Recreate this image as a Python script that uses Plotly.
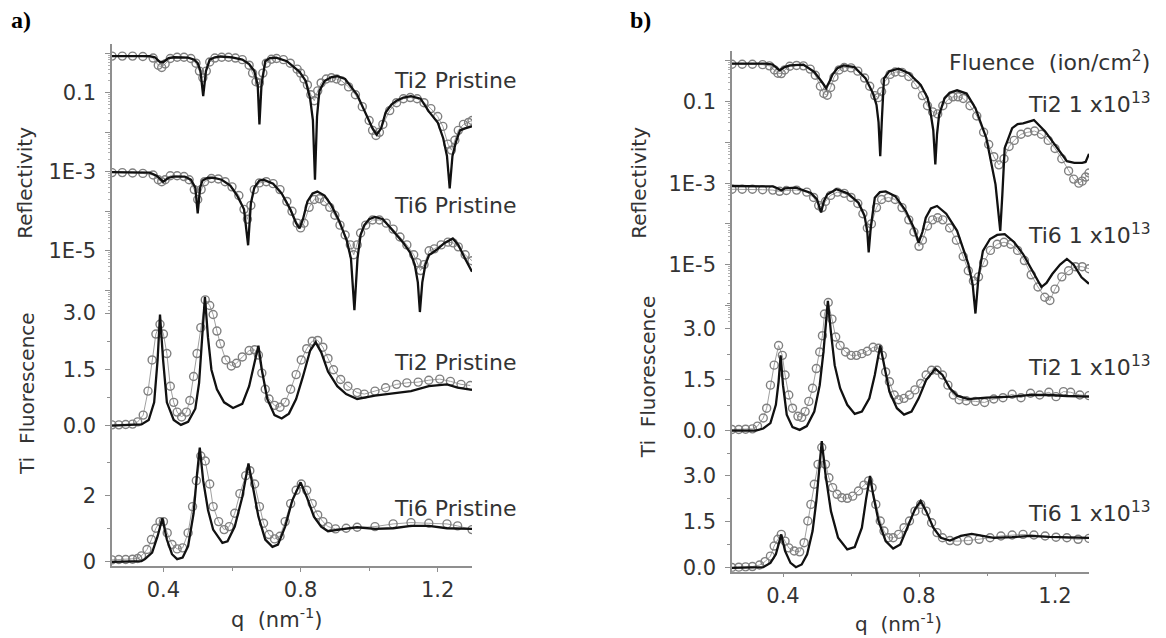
import numpy as np
import plotly.graph_objects as go

W, H = 1166, 638
FONT = "DejaVu Sans"

# ---------------- Panel a : reflectivity (log10 R) ----------------
qa_R2_fit = [0.25,0.36,0.375,0.39,0.40,0.415,0.43,0.472,0.49,0.50,0.508,0.516,0.524,0.535,0.55,0.566,0.60,0.63,0.65,0.665,0.675,0.68,0.686,0.697,0.71,0.729,0.76,0.797,0.815,0.828,0.836,0.842,0.848,0.855,0.87,0.89,0.907,0.93,0.965,0.996,1.01,1.022,1.035,1.048,1.065,1.08,1.10,1.122,1.15,1.174,1.20,1.216,1.227,1.235,1.243,1.253,1.265,1.28,1.30]
la_R2_fit = [-0.07,-0.07,-0.1,-0.22,-0.22,-0.12,-0.1,-0.11,-0.16,-0.25,-0.45,-1.085,-0.45,-0.16,-0.1,-0.08,-0.1,-0.16,-0.27,-0.45,-0.8,-1.8,-0.8,-0.2,-0.12,-0.11,-0.2,-0.47,-0.7,-1.15,-1.7,-3.2,-1.6,-0.95,-0.7,-0.6,-0.58,-0.65,-1.05,-1.63,-1.9,-2.06,-1.9,-1.5,-1.3,-1.2,-1.12,-1.085,-1.15,-1.47,-1.75,-2.15,-2.6,-3.42,-2.6,-2.25,-1.95,-1.9,-1.85]
qa_R2_dat = [0.25,0.28,0.31,0.34,0.37,0.385,0.395,0.405,0.42,0.44,0.46,0.48,0.495,0.505,0.515,0.525,0.535,0.55,0.57,0.59,0.61,0.63,0.65,0.66,0.67,0.68,0.69,0.70,0.715,0.73,0.75,0.77,0.79,0.80,0.81,0.82,0.83,0.84,0.85,0.86,0.875,0.89,0.905,0.92,0.94,0.96,0.98,1.0,1.01,1.02,1.03,1.04,1.06,1.08,1.10,1.12,1.14,1.16,1.18,1.20,1.215,1.23,1.24,1.25,1.26,1.275,1.29,1.30]
la_R2_dat = [-0.07,-0.07,-0.07,-0.08,-0.12,-0.3,-0.36,-0.27,-0.13,-0.1,-0.1,-0.13,-0.25,-0.45,-0.62,-0.45,-0.22,-0.12,-0.1,-0.1,-0.12,-0.16,-0.3,-0.5,-0.72,-0.75,-0.5,-0.25,-0.15,-0.13,-0.16,-0.25,-0.4,-0.5,-0.65,-0.8,-1.05,-1.2,-0.95,-0.75,-0.65,-0.62,-0.65,-0.7,-0.85,-1.05,-1.35,-1.7,-1.95,-2.08,-2.0,-1.8,-1.45,-1.25,-1.15,-1.12,-1.15,-1.25,-1.4,-1.6,-1.85,-2.3,-2.45,-2.2,-1.95,-1.8,-1.75,-1.7]
qa_R6_fit = [0.25,0.36,0.38,0.399,0.415,0.43,0.462,0.48,0.493,0.50,0.507,0.514,0.53,0.545,0.57,0.595,0.615,0.635,0.647,0.655,0.665,0.68,0.692,0.72,0.745,0.77,0.787,0.797,0.807,0.82,0.835,0.849,0.87,0.89,0.912,0.935,0.947,0.957,0.966,0.975,0.986,1.0,1.017,1.04,1.06,1.08,1.10,1.12,1.133,1.142,1.148,1.155,1.164,1.175,1.185,1.20,1.22,1.244,1.26,1.28,1.30]
la_R6_fit = [-3.01,-3.02,-3.1,-3.25,-3.15,-3.12,-3.12,-3.2,-3.4,-4.05,-3.4,-3.22,-3.15,-3.15,-3.2,-3.35,-3.6,-3.95,-4.86,-3.8,-3.4,-3.22,-3.2,-3.3,-3.55,-3.95,-4.3,-4.43,-4.2,-3.75,-3.55,-3.5,-3.6,-3.85,-4.23,-4.75,-5.2,-6.5,-5.2,-4.6,-4.35,-4.2,-4.14,-4.2,-4.4,-4.6,-4.8,-5.05,-5.35,-5.8,-6.55,-5.8,-5.35,-5.1,-5.05,-4.95,-4.8,-4.69,-4.85,-5.2,-5.53]
qa_R6_dat = [0.25,0.28,0.31,0.34,0.37,0.385,0.395,0.405,0.42,0.44,0.46,0.475,0.49,0.50,0.51,0.52,0.54,0.56,0.58,0.60,0.62,0.635,0.645,0.655,0.665,0.68,0.70,0.72,0.74,0.76,0.775,0.79,0.80,0.81,0.825,0.84,0.855,0.87,0.885,0.90,0.915,0.93,0.945,0.955,0.965,0.975,0.99,1.01,1.03,1.05,1.07,1.09,1.11,1.13,1.14,1.15,1.16,1.175,1.19,1.21,1.23,1.245,1.26,1.28,1.30]
la_R6_dat = [-3.02,-3.02,-3.03,-3.04,-3.08,-3.2,-3.25,-3.2,-3.1,-3.1,-3.12,-3.2,-3.45,-3.7,-3.45,-3.25,-3.17,-3.18,-3.25,-3.38,-3.6,-3.95,-4.2,-3.85,-3.45,-3.28,-3.25,-3.3,-3.45,-3.75,-4.0,-4.3,-4.42,-4.3,-3.9,-3.7,-3.68,-3.75,-3.9,-4.1,-4.35,-4.6,-4.85,-5.1,-4.85,-4.55,-4.35,-4.22,-4.22,-4.3,-4.45,-4.65,-4.85,-5.1,-5.3,-5.5,-5.35,-5.0,-4.95,-4.85,-4.78,-4.8,-4.9,-5.1,-5.25]

# ---------------- Panel a : Ti fluorescence ----------------
qa_F2_fit = [0.25,0.336,0.357,0.373,0.383,0.39,0.399,0.41,0.43,0.451,0.472,0.493,0.504,0.514,0.521,0.53,0.54,0.556,0.577,0.603,0.63,0.65,0.666,0.677,0.687,0.703,0.724,0.745,0.766,0.787,0.807,0.828,0.844,0.86,0.88,0.907,0.933,0.965,1.017,1.07,1.122,1.174,1.227,1.258,1.30]
fa_F2_fit = [0.0,0.03,0.15,0.62,1.75,2.96,1.75,0.62,0.15,0.02,0.1,0.45,1.14,2.35,3.43,2.35,1.49,0.97,0.62,0.47,0.58,1.05,1.66,2.13,1.49,0.71,0.28,0.19,0.32,0.71,1.31,2.0,2.22,1.96,1.44,1.05,0.84,0.71,0.8,0.86,0.92,1.05,1.1,1.01,0.95]
qa_F2_dat = [0.25,0.27,0.29,0.31,0.325,0.341,0.355,0.367,0.378,0.39,0.40,0.41,0.42,0.43,0.44,0.453,0.467,0.477,0.488,0.498,0.509,0.522,0.535,0.545,0.556,0.566,0.582,0.598,0.613,0.63,0.65,0.666,0.677,0.687,0.697,0.708,0.724,0.74,0.755,0.771,0.787,0.802,0.818,0.834,0.85,0.865,0.88,0.896,0.917,0.938,0.965,0.986,1.017,1.048,1.08,1.11,1.143,1.174,1.206,1.237,1.268,1.295]
fa_F2_dat = [0.02,0.02,0.03,0.04,0.1,0.28,0.92,1.75,2.44,2.7,2.44,1.92,1.05,0.62,0.36,0.23,0.36,0.67,1.31,1.92,2.61,3.35,3.2,2.96,2.52,2.18,1.75,1.59,1.66,1.83,2.0,2.02,1.88,1.4,0.97,0.71,0.54,0.49,0.62,0.97,1.36,1.75,2.05,2.25,2.27,2.09,1.79,1.49,1.23,1.05,0.88,0.84,0.92,1.01,1.1,1.14,1.16,1.21,1.24,1.18,1.1,1.07]
qa_F6_fit = [0.25,0.336,0.346,0.367,0.383,0.397,0.41,0.425,0.44,0.456,0.472,0.488,0.498,0.506,0.516,0.53,0.545,0.572,0.587,0.608,0.63,0.648,0.661,0.677,0.697,0.718,0.734,0.755,0.776,0.80,0.818,0.839,0.86,0.88,0.912,0.965,1.017,1.07,1.122,1.174,1.227,1.30]
fa_F6_fit = [0.0,0.02,0.08,0.28,0.77,1.31,0.67,0.23,0.08,0.13,0.47,1.46,2.64,3.43,2.44,1.56,0.97,0.57,0.62,1.06,1.95,2.96,2.25,1.36,0.67,0.45,0.52,1.06,1.85,2.39,1.95,1.36,1.06,0.92,0.97,1.04,0.99,1.01,1.08,1.08,1.01,0.99]
qa_F6_dat = [0.25,0.27,0.29,0.31,0.325,0.336,0.352,0.365,0.378,0.39,0.40,0.411,0.425,0.44,0.456,0.472,0.485,0.496,0.509,0.522,0.535,0.545,0.561,0.577,0.592,0.608,0.623,0.64,0.652,0.666,0.68,0.692,0.708,0.724,0.74,0.755,0.771,0.787,0.802,0.818,0.834,0.85,0.865,0.88,0.902,0.933,0.965,1.017,1.07,1.122,1.174,1.227,1.258,1.30]
fa_F6_dat = [0.06,0.07,0.07,0.08,0.1,0.18,0.37,0.67,1.01,1.21,1.21,0.87,0.52,0.39,0.42,0.87,1.66,2.44,3.18,3.03,2.34,1.66,1.21,0.97,1.06,1.46,2.05,2.59,2.74,2.34,1.66,1.16,0.82,0.69,0.77,1.21,1.75,2.15,2.34,2.15,1.75,1.41,1.21,1.06,0.99,1.01,1.04,1.06,1.14,1.18,1.16,1.14,1.08,0.97]

# ---------------- Panel b : reflectivity (log10 R) ----------------
qb_R2_fit = [0.25,0.35,0.37,0.39,0.405,0.42,0.46,0.492,0.514,0.527,0.537,0.546,0.56,0.578,0.61,0.643,0.665,0.675,0.681,0.686,0.691,0.697,0.713,0.74,0.77,0.805,0.825,0.832,0.842,0.848,0.853,0.859,0.875,0.89,0.912,0.94,0.966,0.998,1.025,1.033,1.039,1.045,1.052,1.074,1.09,1.106,1.138,1.171,1.203,1.235,1.257,1.28,1.29,1.30]
lb_R2_fit = [-0.065,-0.065,-0.09,-0.23,-0.15,-0.11,-0.09,-0.27,-0.51,-0.67,-0.5,-0.33,-0.18,-0.11,-0.15,-0.43,-0.8,-1.08,-1.5,-2.34,-1.4,-0.43,-0.25,-0.19,-0.3,-0.59,-0.9,-1.16,-1.7,-2.54,-1.8,-1.33,-0.92,-0.78,-0.72,-0.8,-1.16,-1.89,-3.03,-3.6,-4.17,-3.3,-2.14,-1.65,-1.55,-1.53,-1.45,-1.73,-2.1,-2.46,-2.5,-2.5,-2.48,-2.28]
qb_R2_dat = [0.25,0.28,0.31,0.34,0.36,0.375,0.385,0.395,0.405,0.42,0.44,0.46,0.48,0.495,0.51,0.52,0.53,0.54,0.55,0.565,0.58,0.60,0.62,0.64,0.655,0.67,0.68,0.69,0.70,0.715,0.73,0.75,0.77,0.79,0.81,0.825,0.84,0.855,0.87,0.885,0.90,0.915,0.93,0.95,0.97,0.99,1.005,1.02,1.035,1.05,1.065,1.08,1.10,1.12,1.14,1.16,1.18,1.20,1.22,1.24,1.255,1.27,1.28,1.29,1.30]
lb_R2_dat = [-0.08,-0.08,-0.08,-0.09,-0.12,-0.22,-0.3,-0.31,-0.22,-0.13,-0.11,-0.12,-0.2,-0.35,-0.62,-0.8,-0.84,-0.65,-0.4,-0.22,-0.16,-0.17,-0.25,-0.42,-0.62,-0.85,-0.9,-0.75,-0.5,-0.33,-0.27,-0.28,-0.38,-0.58,-0.85,-1.1,-1.25,-1.3,-1.1,-0.95,-0.88,-0.88,-0.92,-1.1,-1.35,-1.75,-2.05,-2.35,-2.55,-2.4,-2.1,-1.95,-1.8,-1.75,-1.72,-1.8,-1.95,-2.15,-2.4,-2.7,-2.9,-3.0,-2.95,-2.85,-2.75]
qb_R6_fit = [0.25,0.37,0.385,0.395,0.405,0.438,0.482,0.50,0.512,0.52,0.53,0.557,0.59,0.622,0.64,0.648,0.652,0.658,0.67,0.685,0.702,0.73,0.761,0.785,0.799,0.81,0.82,0.835,0.853,0.88,0.912,0.945,0.958,0.966,0.975,0.988,1.009,1.03,1.052,1.08,1.106,1.138,1.16,1.175,1.192,1.215,1.235,1.255,1.278,1.30]
lb_R6_fit = [-3.07,-3.08,-3.13,-3.18,-3.13,-3.11,-3.24,-3.4,-3.72,-3.45,-3.28,-3.15,-3.25,-3.48,-3.8,-4.2,-4.7,-4.1,-3.36,-3.22,-3.2,-3.32,-3.68,-4.1,-4.46,-4.2,-3.85,-3.62,-3.56,-3.75,-4.17,-4.98,-5.5,-6.2,-5.3,-4.66,-4.37,-4.27,-4.25,-4.45,-4.74,-5.23,-5.55,-5.45,-5.23,-5.0,-4.86,-5.0,-5.31,-5.47]
qb_R6_dat = [0.25,0.28,0.31,0.34,0.37,0.39,0.41,0.44,0.47,0.49,0.505,0.515,0.525,0.54,0.56,0.58,0.60,0.62,0.635,0.648,0.66,0.675,0.69,0.71,0.73,0.75,0.77,0.785,0.80,0.81,0.825,0.84,0.855,0.87,0.89,0.91,0.93,0.945,0.96,0.975,0.99,1.01,1.03,1.05,1.07,1.09,1.11,1.13,1.15,1.17,1.185,1.20,1.22,1.24,1.26,1.28,1.30]
lb_R6_dat = [-3.15,-3.15,-3.15,-3.16,-3.17,-3.2,-3.18,-3.17,-3.22,-3.35,-3.55,-3.6,-3.45,-3.3,-3.22,-3.25,-3.35,-3.5,-3.75,-4.1,-4.0,-3.6,-3.4,-3.35,-3.4,-3.6,-3.9,-4.2,-4.55,-4.4,-4.05,-3.9,-3.85,-3.9,-4.1,-4.4,-4.8,-5.15,-5.4,-5.3,-4.95,-4.65,-4.5,-4.45,-4.5,-4.65,-4.9,-5.25,-5.55,-5.8,-5.88,-5.6,-5.3,-5.15,-5.05,-5.05,-5.1]

# ---------------- Panel b : Ti fluorescence ----------------
qb_F2_fit = [0.25,0.32,0.342,0.363,0.379,0.387,0.393,0.40,0.411,0.428,0.449,0.47,0.492,0.508,0.519,0.527,0.532,0.541,0.552,0.568,0.589,0.611,0.632,0.654,0.67,0.686,0.697,0.713,0.735,0.756,0.778,0.799,0.821,0.848,0.869,0.891,0.912,0.945,0.998,1.074,1.128,1.182,1.235,1.30]
fb_F2_fit = [0.0,0.0,0.06,0.22,0.76,1.44,2.22,1.34,0.47,0.1,0.02,0.13,0.56,1.34,2.32,3.29,3.83,2.9,1.93,1.25,0.76,0.49,0.56,0.95,1.64,2.51,1.93,1.15,0.66,0.47,0.56,0.95,1.49,1.83,1.64,1.25,1.03,0.93,0.97,1.0,1.05,1.05,1.02,1.0]
qb_F2_dat = [0.25,0.27,0.29,0.31,0.325,0.342,0.352,0.363,0.374,0.387,0.398,0.406,0.417,0.428,0.444,0.455,0.465,0.476,0.487,0.498,0.508,0.516,0.522,0.533,0.544,0.555,0.568,0.584,0.60,0.616,0.632,0.648,0.665,0.681,0.692,0.702,0.713,0.727,0.74,0.756,0.772,0.788,0.805,0.821,0.837,0.853,0.869,0.885,0.901,0.918,0.939,0.966,0.993,1.02,1.047,1.074,1.10,1.128,1.155,1.182,1.203,1.225,1.246,1.273,1.30]
fb_F2_dat = [0.03,0.03,0.04,0.05,0.13,0.37,0.66,1.34,1.93,2.51,2.22,1.64,1.05,0.66,0.42,0.39,0.56,0.86,1.25,1.83,2.32,2.8,3.44,3.78,3.29,2.76,2.51,2.32,2.22,2.22,2.27,2.34,2.46,2.43,2.22,1.73,1.44,1.05,0.91,0.95,1.05,1.2,1.39,1.64,1.78,1.78,1.64,1.34,1.05,0.91,0.88,0.86,0.83,0.93,0.97,1.07,0.97,1.1,1.05,1.13,1.0,1.15,1.13,1.05,1.03]
qb_F6_fit = [0.25,0.32,0.342,0.363,0.379,0.395,0.406,0.422,0.438,0.455,0.471,0.487,0.498,0.508,0.514,0.525,0.541,0.562,0.589,0.611,0.632,0.645,0.656,0.665,0.681,0.702,0.724,0.745,0.766,0.788,0.805,0.821,0.842,0.864,0.891,0.923,0.955,0.988,1.02,1.074,1.128,1.182,1.235,1.30]
fb_F6_fit = [0.0,0.0,0.02,0.16,0.44,1.09,0.55,0.16,0.02,0.11,0.44,1.2,2.18,3.38,4.14,3.05,1.85,0.98,0.6,0.68,1.31,2.29,3.0,2.4,1.53,0.87,0.63,0.76,1.31,1.91,2.18,1.85,1.31,0.98,0.89,1.04,1.11,1.04,0.98,1.0,1.04,1.01,1.0,0.98]
qb_F6_dat = [0.25,0.27,0.29,0.31,0.331,0.347,0.363,0.374,0.385,0.395,0.406,0.417,0.433,0.449,0.462,0.473,0.482,0.492,0.503,0.514,0.525,0.535,0.546,0.559,0.573,0.589,0.605,0.622,0.638,0.652,0.662,0.673,0.686,0.697,0.71,0.724,0.74,0.756,0.772,0.788,0.805,0.821,0.837,0.853,0.869,0.891,0.912,0.945,0.977,1.009,1.041,1.074,1.106,1.138,1.171,1.203,1.235,1.268,1.30]
fb_F6_dat = [0.01,0.02,0.03,0.04,0.09,0.2,0.38,0.71,0.93,1.09,0.87,0.65,0.55,0.52,0.82,1.53,2.07,2.73,3.38,3.93,3.38,2.94,2.62,2.4,2.29,2.27,2.34,2.51,2.7,2.84,2.62,2.07,1.53,1.2,0.98,0.98,1.09,1.31,1.53,1.85,2.07,1.85,1.47,1.15,0.98,0.89,0.87,0.89,0.93,0.98,1.04,1.07,1.09,1.07,1.04,1.0,0.98,0.93,0.96]

# ---------------- tick labels ----------------
refl_tickvals = [0, -1, -2, -3, -4, -5, -6]
refl_ticktext = ["", "0.1", "", "1E-3", "", "1E-5", ""]
x_tickvals = [0.4, 0.8, 1.2]
x_ticktext = ["0.4", "0.8", "1.2"]

# ---------------- figure ----------------
def xd(a, b):
    return [a / W, b / W]

def yd(top, bot):
    return [1 - bot / H, 1 - top / H]

AXC = "#8f8f8f"
TXC = "#333333"
tickfont = dict(family=FONT, size=21, color=TXC)

fig = go.Figure()

DATA_COLOR = "#808080"

def add_pair(qd, vd, qf, vf, xa, ya):
    assert len(qd) == len(vd) and len(qf) == len(vf)
    fig.add_trace(go.Scatter(
        x=qd, y=vd, mode="lines+markers", xaxis=xa, yaxis=ya,
        line=dict(color="#a0a0a0", width=1),
        marker=dict(symbol="circle-open", size=8, color=DATA_COLOR,
                    line=dict(width=1.4, color=DATA_COLOR)),
        showlegend=False, hoverinfo="skip"))
    fig.add_trace(go.Scatter(
        x=qf, y=vf, mode="lines", xaxis=xa, yaxis=ya,
        line=dict(color="#111111", width=2.3),
        showlegend=False, hoverinfo="skip"))

add_pair(qa_R2_dat, la_R2_dat, qa_R2_fit, la_R2_fit, "x", "y")
add_pair(qa_R6_dat, la_R6_dat, qa_R6_fit, la_R6_fit, "x", "y")
add_pair(qa_F2_dat, fa_F2_dat, qa_F2_fit, fa_F2_fit, "x", "y2")
add_pair(qa_F6_dat, fa_F6_dat, qa_F6_fit, fa_F6_fit, "x", "y3")
add_pair(qb_R2_dat, lb_R2_dat, qb_R2_fit, lb_R2_fit, "x2", "y4")
add_pair(qb_R6_dat, lb_R6_dat, qb_R6_fit, lb_R6_fit, "x2", "y4")
add_pair(qb_F2_dat, fb_F2_dat, qb_F2_fit, fb_F2_fit, "x2", "y5")
add_pair(qb_F6_dat, fb_F6_dat, qb_F6_fit, fb_F6_fit, "x2", "y6")

log_minor = [float(np.log10(k) + n) for n in range(-7, 1) for k in range(2, 10)]

def xaxis(dom, anchor):
    return dict(domain=dom, range=[0.25, 1.3], anchor=anchor,
                showline=True, linecolor=AXC, linewidth=1.5,
                showgrid=False, zeroline=False,
                ticks="outside", ticklen=4, tickwidth=1.2, tickcolor=AXC,
                tickvals=x_tickvals, ticktext=x_ticktext, tickfont=tickfont,
                minor=dict(tickvals=[0.6, 1.0], ticklen=3, tickcolor=AXC, ticks="outside"))

def yrefl(dom, rng, anchor):
    return dict(domain=dom, range=rng, anchor=anchor,
                showline=True, linecolor=AXC, linewidth=1.5,
                showgrid=False, zeroline=False,
                ticks="outside", ticklen=5, tickwidth=1.2, tickcolor=AXC,
                tickvals=refl_tickvals, ticktext=refl_ticktext, tickfont=tickfont,
                ticklabelstandoff=5,
                minor=dict(tickvals=log_minor, ticklen=2.5, tickcolor="#b0b0b0", ticks="outside"))

def yfluo(dom, rng, anchor, dt, mdt, fmt):
    return dict(domain=dom, range=rng, anchor=anchor,
                showline=True, linecolor=AXC, linewidth=1.5,
                showgrid=False, zeroline=False,
                ticks="outside", ticklen=5, tickwidth=1.2, tickcolor=AXC,
                tick0=0, dtick=dt, tickformat=fmt, tickfont=tickfont,
                ticklabelstandoff=5,
                minor=dict(tick0=0, dtick=mdt, ticklen=3, tickcolor=AXC, ticks="outside"))

fig.update_layout(
    width=W, height=H, margin=dict(l=0, r=0, t=0, b=0),
    paper_bgcolor="white", plot_bgcolor="rgba(0,0,0,0)",
    xaxis=xaxis(xd(112, 472), "y3"),
    yaxis=yrefl(yd(45, 318), [-6.6, 0.225], "x"),
    yaxis2=yfluo(yd(290, 445), [-0.368, 3.711], "x", 1.5, 0.75, ".1f"),
    yaxis3=yfluo(yd(440, 573), [-0.119, 3.828], "x", 2, 1, "d"),
    xaxis2=xaxis(xd(732, 1089), "y6"),
    yaxis4=yrefl(yd(52, 330), [-6.503, 0.236], "x2"),
    yaxis5=yfluo(yd(300, 445), [-0.262, 3.965], "x2", 1.5, 0.75, ".1f"),
    yaxis6=yfluo(yd(440, 579), [-0.129, 4.355], "x2", 1.5, 0.75, ".1f"),
)

NB = "\u00a0"
ann = []

def add_text(text, px, py, size=21, xanchor="center", angle=0, family=FONT, color=TXC):
    ann.append(dict(text=text, x=px / W, y=1 - py / H, xref="paper", yref="paper",
                    xanchor=xanchor, yanchor="middle", showarrow=False, textangle=angle,
                    font=dict(family=family, size=size, color=color)))

add_text("<b>a)</b>", 9, 20, size=24, xanchor="left", family="Liberation Serif", color="black")
add_text("<b>b)</b>", 628, 20, size=24, xanchor="left", family="Liberation Serif", color="black")

add_text("Ti2 Pristine", 519, 82, size=22, xanchor="right")
add_text("Ti6 Pristine", 519, 208, size=22, xanchor="right")
add_text("Ti2 Pristine", 519, 367, size=22, xanchor="right")
add_text("Ti6 Pristine", 519, 515, size=22, xanchor="right")

add_text("Fluence" + NB + NB + "(ion/cm<sup>2</sup>)", 1152, 62, size=22, xanchor="right")
add_text("Ti2 1 x10<sup>13</sup>", 1152, 104, size=22, xanchor="right")
add_text("Ti6 1 x10<sup>13</sup>", 1152, 237, size=22, xanchor="right")
add_text("Ti2 1 x10<sup>13</sup>", 1152, 371, size=22, xanchor="right")
add_text("Ti6 1 x10<sup>13</sup>", 1152, 518, size=22, xanchor="right")

add_text("Reflectivity", 25, 185, size=20, angle=-90)
add_text("Ti" + NB + NB + "Fluorescence", 27, 399, size=20, angle=-90)
add_text("Reflectivity", 639, 185, size=20, angle=-90)
add_text("Ti" + NB + NB + "Fluorescence", 648, 382, size=20, angle=-90)

add_text("q" + NB + NB + "(nm<sup>-1</sup>)", 277, 626, size=21)
add_text("q" + NB + NB + "(nm<sup>-1</sup>)", 898, 631, size=20)

fig.update_layout(annotations=ann)
fig.write_html("out.html")
